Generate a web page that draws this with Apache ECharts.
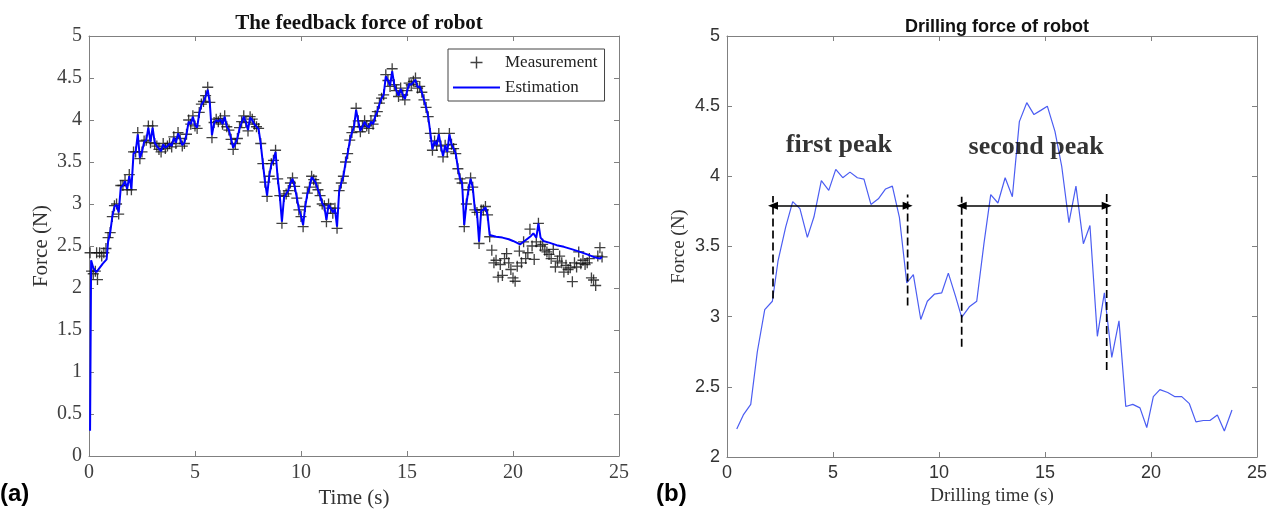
<!DOCTYPE html>
<html><head><meta charset="utf-8">
<script src="https://cdn.jsdelivr.net/npm/echarts@6/dist/echarts.min.js"></script>
<style>html,body{margin:0;padding:0;background:#fff}#c{width:1278px;height:514px}</style>
</head><body><div id="c"></div>
<script>
// ---------- Panel (a): feedback force ----------
const measurement = [
[0.05,2.42],[0.12,2.2],[0.2,2.17],[0.3,2.2],[0.36,2.42],[0.4,2.1],[0.5,2.42],[0.6,2.38],[0.7,2.42],[0.8,2.47],
[0.9,2.6],[1.0,2.66],[1.1,2.85],[1.2,2.98],[1.3,3.0],[1.4,2.88],[1.5,3.22],[1.6,3.22],[1.7,3.28],[1.8,3.17],
[1.9,3.35],[2.0,3.17],[2.1,3.62],[2.2,3.62],[2.3,3.85],[2.4,3.54],[2.5,3.62],[2.6,3.75],[2.7,3.76],[2.8,3.93],
[2.9,3.73],[3.0,3.93],[3.1,3.72],[3.2,3.69],[3.3,3.65],[3.4,3.62],[3.5,3.72],[3.6,3.66],[3.7,3.69],[3.8,3.72],
[3.9,3.68],[4.0,3.8],[4.1,3.72],[4.2,3.85],[4.3,3.78],[4.4,3.69],[4.5,3.72],[4.6,3.83],[4.7,4.0],[4.8,3.95],
[4.9,4.05],[5.0,3.93],[5.1,3.9],[5.2,4.09],[5.3,4.19],[5.4,4.22],[5.5,4.29],[5.6,4.39],[5.7,4.21],[5.8,3.79],
[5.9,3.97],[6.0,4.01],[6.1,3.98],[6.2,4.02],[6.3,3.95],[6.4,4.05],[6.5,3.92],[6.6,3.88],[6.7,3.77],[6.8,3.65],
[6.9,3.72],[7.0,3.78],[7.1,3.91],[7.2,3.98],[7.3,4.05],[7.4,3.97],[7.5,3.87],[7.6,4.04],[7.7,4.01],[7.8,3.95],
[7.9,3.92],[8.0,3.9],[8.1,3.72],[8.2,3.48],[8.3,3.26],[8.4,3.09],[8.5,3.33],[8.6,3.48],[8.7,3.52],[8.8,3.64],
[8.9,3.3],[9.0,3.1],[9.1,2.77],[9.2,3.09],[9.3,3.12],[9.4,3.16],[9.5,3.25],[9.6,3.31],[9.7,3.21],[9.8,3.07],
[9.9,2.93],[10.0,2.85],[10.1,2.73],[10.2,2.97],[10.3,3.13],[10.4,3.2],[10.5,3.33],[10.6,3.29],[10.7,3.25],[10.8,3.17],
[10.9,3.1],[11.0,3.0],[11.1,2.98],[11.2,2.79],[11.3,3.0],[11.4,2.95],[11.5,2.89],[11.6,2.95],[11.7,2.71],[11.8,3.16],
[11.9,3.25],[12.0,3.33],[12.1,3.5],[12.2,3.6],[12.3,3.76],[12.4,3.85],[12.5,3.92],[12.6,4.14],[12.7,3.99],[12.8,3.86],
[12.9,3.92],[13.0,3.99],[13.1,3.93],[13.2,3.9],[13.3,3.99],[13.4,3.95],[13.5,4.05],[13.6,4.1],[13.7,4.2],[13.8,4.26],
[13.9,4.3],[14.0,4.54],[14.1,4.47],[14.2,4.4],[14.3,4.61],[14.4,4.42],[14.5,4.35],[14.6,4.28],[14.7,4.38],[14.8,4.3],
[14.9,4.24],[15.0,4.35],[15.1,4.44],[15.2,4.42],[15.3,4.46],[15.4,4.5],[15.5,4.38],[15.6,4.4],[15.7,4.33],[15.8,4.24],
[15.9,4.15],[16.0,4.04],[16.1,3.84],[16.2,3.64],[16.3,3.75],[16.4,3.7],[16.5,3.84],[16.6,3.69],[16.7,3.56],[16.8,3.7],
[16.9,3.62],[17.0,3.84],[17.1,3.71],[17.2,3.66],[17.3,3.6],[17.4,3.42],[17.5,3.3],[17.6,3.25],[17.7,2.73],[17.8,3.0],
[17.9,3.17],[18.0,3.31],[18.1,3.2],[18.2,2.93],[18.3,2.9],[18.4,2.53],[18.5,2.93],[18.6,2.93],[18.7,2.97],[18.8,2.87],
[18.9,2.61],[19.0,2.45],[19.1,2.3],[19.2,2.33],[19.3,2.13],[19.4,2.28],[19.5,2.15],[19.6,2.35],[19.7,2.41],[19.8,2.3],
[19.9,2.22],[20.0,2.12],[20.1,2.08],[20.2,2.26],[20.3,2.44],[20.4,2.3],[20.5,2.55],[20.6,2.35],[20.7,2.42],[20.8,2.7],
[20.9,2.5],[21.0,2.34],[21.1,2.55],[21.2,2.77],[21.3,2.5],[21.4,2.52],[21.5,2.45],[21.6,2.43],[21.7,2.4],[21.8,2.35],
[21.9,2.46],[22.0,2.25],[22.1,2.32],[22.2,2.38],[22.3,2.3],[22.4,2.19],[22.5,2.27],[22.6,2.22],[22.7,2.24],[22.8,2.075],
[22.9,2.3],[23.0,2.25],[23.1,2.43],[23.2,2.29],[23.3,2.33],[23.4,2.28],[23.5,2.3],[23.6,2.35],[23.7,2.12],[23.8,2.095],
[23.9,2.03],[24.0,2.38],[24.1,2.48],[24.2,2.37]
];
const estimation = [
[0.05,0.3],[0.1,2.33],[0.2,2.24],[0.35,2.19],[0.5,2.24],[0.65,2.29],[0.83,2.34],[0.9,2.55],[1.0,2.66],[1.1,2.85],
[1.2,2.97],[1.3,2.99],[1.4,2.9],[1.5,3.2],[1.6,3.22],[1.7,3.27],[1.8,3.18],[1.9,3.33],[2.0,3.18],[2.1,3.6],
[2.2,3.62],[2.3,3.83],[2.4,3.55],[2.5,3.62],[2.6,3.74],[2.7,3.76],[2.8,3.91],[2.9,3.74],[3.0,3.91],[3.1,3.73],
[3.2,3.69],[3.3,3.66],[3.4,3.63],[3.5,3.71],[3.6,3.67],[3.7,3.69],[3.8,3.72],[3.9,3.69],[4.0,3.79],[4.1,3.73],
[4.2,3.84],[4.3,3.78],[4.4,3.7],[4.5,3.73],[4.6,3.83],[4.7,3.98],[4.8,3.95],[4.9,4.04],[5.0,3.94],[5.1,3.91],
[5.2,4.08],[5.3,4.18],[5.4,4.22],[5.5,4.28],[5.6,4.36],[5.7,4.2],[5.8,3.82],[5.9,3.96],[6.0,4.0],[6.1,3.98],
[6.2,4.01],[6.3,3.95],[6.4,4.04],[6.5,3.92],[6.6,3.88],[6.7,3.78],[6.8,3.67],[6.9,3.72],[7.0,3.78],[7.1,3.9],
[7.2,3.97],[7.3,4.04],[7.4,3.97],[7.5,3.88],[7.6,4.03],[7.7,4.0],[7.8,3.95],[7.9,3.92],[8.0,3.89],[8.1,3.72],
[8.2,3.49],[8.3,3.27],[8.4,3.1],[8.5,3.33],[8.6,3.47],[8.7,3.52],[8.8,3.62],[8.9,3.31],[9.0,3.1],[9.1,2.79],
[9.2,3.08],[9.3,3.12],[9.4,3.16],[9.5,3.25],[9.6,3.3],[9.7,3.21],[9.8,3.08],[9.9,2.94],[10.0,2.86],[10.1,2.75],
[10.2,2.97],[10.3,3.12],[10.4,3.2],[10.5,3.32],[10.6,3.29],[10.7,3.25],[10.8,3.17],[10.9,3.1],[11.0,3.01],[11.1,2.97],
[11.2,2.81],[11.3,2.99],[11.4,2.95],[11.5,2.9],[11.6,2.94],[11.7,2.73],[11.8,3.15],[11.9,3.25],[12.0,3.33],[12.1,3.49],
[12.2,3.6],[12.3,3.75],[12.4,3.85],[12.5,3.92],[12.6,4.12],[12.7,3.99],[12.8,3.87],[12.9,3.92],[13.0,3.98],[13.1,3.93],
[13.2,3.91],[13.3,3.98],[13.4,3.95],[13.5,4.04],[13.6,4.1],[13.7,4.19],[13.8,4.26],[13.9,4.3],[14.0,4.52],[14.1,4.47],
[14.2,4.41],[14.3,4.58],[14.4,4.42],[14.5,4.35],[14.6,4.29],[14.7,4.37],[14.8,4.3],[14.9,4.25],[15.0,4.34],[15.1,4.43],
[15.2,4.42],[15.3,4.45],[15.4,4.48],[15.5,4.39],[15.6,4.4],[15.7,4.33],[15.8,4.24],[15.9,4.15],[16.0,4.04],[16.1,3.85],
[16.2,3.65],[16.3,3.75],[16.4,3.7],[16.5,3.83],[16.6,3.69],[16.7,3.57],[16.8,3.7],[16.9,3.62],[17.0,3.83],[17.1,3.71],
[17.2,3.66],[17.3,3.6],[17.4,3.43],[17.5,3.3],[17.6,3.25],[17.7,2.75],[17.8,3.0],[17.9,3.17],[18.0,3.3],[18.1,3.2],
[18.2,2.94],[18.3,2.9],[18.4,2.55],[18.5,2.92],[18.6,2.93],[18.7,2.96],[18.8,2.87],[18.9,2.63],[19.2,2.61],[19.5,2.6],
[19.8,2.58],[20.0,2.56],[20.17,2.54],[20.33,2.52],[20.5,2.55],[20.7,2.59],[20.85,2.62],[20.96,2.65],[21.1,2.6],[21.2,2.77],
[21.3,2.6],[21.43,2.56],[21.7,2.54],[22.06,2.51],[22.4,2.49],[22.8,2.46],[23.16,2.43],[23.5,2.4],[23.8,2.37],[24.1,2.35],
[24.2,2.37]
];

// ---------- Panel (b): drilling force ----------
const drillTime = [0.46,0.77,1.12,1.43,1.78,2.14,2.41,2.77,3.10,3.44,3.79,4.10,4.45,4.80,5.13,5.46,5.80,6.15,6.46,6.79,
7.14,7.48,7.80,8.13,8.48,8.79,9.14,9.45,9.78,10.13,10.44,10.77,11.07,11.43,11.78,12.12,12.44,12.78,13.12,13.46,
13.79,14.14,14.48,14.80,15.11,15.47,15.79,16.13,16.46,16.81,17.12,17.47,17.80,18.15,18.49,18.81,19.14,19.48,19.80,20.11,
20.42,20.79,21.13,21.45,21.81,22.12,22.47,22.78,23.13,23.46,23.82];
const drillForce = [2.20,2.30,2.375,2.75,3.05,3.11,3.40,3.64,3.82,3.77,3.565,3.71,3.97,3.90,4.05,3.99,4.03,3.99,3.98,3.80,
3.84,3.91,3.93,3.71,3.24,3.30,2.98,3.11,3.16,3.17,3.31,3.15,2.995,3.07,3.11,3.52,3.87,3.81,3.99,3.855,
4.39,4.525,4.44,4.47,4.50,4.32,4.07,3.67,3.93,3.52,3.65,2.86,3.17,2.71,2.97,2.36,2.375,2.35,2.21,2.43,
2.48,2.46,2.43,2.43,2.38,2.25,2.26,2.26,2.30,2.185,2.335];
// peak annotations (data units)
const peakStart = [2.17, 11.07];
const peakEnd = [8.52, 17.91];
const arrowLevel = 3.79;
const dashX = [2.17, 8.52, 11.07, 17.91];
const dashLow = [3.13, 3.08, 2.785, 2.62];
const dashHigh = [3.86, 3.87, 3.855, 3.88];
const peakNames = ['first peak', 'second peak'];
const peakNameX = [5.28, 14.58];
const peakNameY = [4.22, 4.21];

// ---------- styles ----------
const SERIF = 'Liberation Serif';
const SANS = 'Liberation Sans';
const AX = '#808080';
const plusPath = 'path://M8.8,0h2.4v8.8h8.8v2.4h-8.8v8.8h-2.4v-8.8h-8.8v-2.4h8.8z';
const linePath = 'path://M0,0h100v4h-100z';

function axisPair(grid, dir, min, max, interval, lbl, name, nameGap, nameStyle) {
  const common = {
    gridIndex: grid, type: 'value', min: min, max: max, interval: interval,
    axisLine: { show: true, onZero: false, lineStyle: { color: AX, width: 1 } },
    axisTick: { show: true, inside: true, length: 5, lineStyle: { color: AX } },
    splitLine: { show: false }
  };
  const main = Object.assign({}, common, {
    position: dir === 'x' ? 'bottom' : 'left',
    axisLabel: lbl,
    name: name, nameLocation: 'middle', nameGap: nameGap, nameTextStyle: nameStyle
  });
  const opp = Object.assign({}, common, {
    position: dir === 'x' ? 'top' : 'right',
    axisLabel: { show: false }
  });
  return [main, opp];
}

const lblA = { margin: 7, fontFamily: SERIF, fontSize: 20, color: '#404040' };
const lblB = { margin: 7, fontFamily: SANS, fontSize: 18, color: '#333' };
const nameA = { fontFamily: SERIF, fontSize: 21, color: '#333' };
const nameB = { fontFamily: SERIF, fontSize: 19, color: '#333' };

const xA = axisPair(0, 'x', 0, 25, 5, lblA, 'Time (s)', 30, nameA);
const yA = axisPair(0, 'y', 0, 5, 0.5, lblA, 'Force (N)', 37, nameA);
const xB = axisPair(1, 'x', 0, 25, 5, lblB, 'Drilling time (s)', 29, nameB);
const yB = axisPair(1, 'y', 2, 5, 0.5, lblB, 'Force (N)', 38, nameB);

const drillData = drillTime.map((t, i) => [t, drillForce[i]]);

const series = [
  { name: 'Measurement', type: 'scatter', xAxisIndex: 0, yAxisIndex: 0, data: measurement,
    symbol: plusPath, symbolSize: 11, itemStyle: { color: '#111' }, z: 2, silent: true },
  { name: 'Estimation', type: 'line', xAxisIndex: 0, yAxisIndex: 0, data: estimation,
    symbol: 'none', lineStyle: { color: '#0000ff', width: 2 }, itemStyle: { color: '#0000ff' }, z: 3, silent: true },
  { name: 'Drilling', type: 'line', xAxisIndex: 2, yAxisIndex: 2, data: drillData,
    symbol: 'none', lineStyle: { color: '#4b5df2', width: 1.2 }, z: 3, silent: true,
    markLine: {
      silent: true, symbol: ['triangle', 'triangle'], symbolSize: [8, 10],
      label: { show: false }, lineStyle: { color: '#000', width: 1.5, type: 'solid' },
      emphasis: { disabled: true },
      data: peakStart.map((s, i) => [{ coord: [s, arrowLevel] }, { coord: [peakEnd[i], arrowLevel] }])
    }
  }
];
dashX.forEach((x, i) => {
  series.push({ type: 'line', xAxisIndex: 2, yAxisIndex: 2, data: [[x, dashLow[i]], [x, dashHigh[i]]],
    symbol: 'none', lineStyle: { color: '#000', width: 1.7, type: [8, 4] }, z: 4, silent: true });
});
series.push({ type: 'scatter', xAxisIndex: 2, yAxisIndex: 2, symbolSize: 0, silent: true, z: 5,
  data: peakNames.map((n, i) => ({ name: n, value: [peakNameX[i], peakNameY[i]] })),
  label: { show: true, position: 'inside', formatter: p => p.name,
    fontFamily: SERIF, fontWeight: 'bold', fontSize: 26, color: '#000' } });

const option = {
  animation: false,
  backgroundColor: '#fff',
  title: [
    { text: 'The feedback force of robot', left: 354, top: 8, textAlign: 'center',
      textStyle: { fontFamily: SERIF, fontWeight: 'bold', fontSize: 21, color: '#111' } },
    { text: 'Drilling force of robot', left: 992, top: 13, textAlign: 'center',
      textStyle: { fontFamily: SANS, fontWeight: 'bold', fontSize: 18, color: '#111' } }
  ],
  legend: {
    data: [
      { name: 'Measurement', icon: plusPath, itemStyle: { color: '#111' } },
      { name: 'Estimation', icon: linePath, itemStyle: { color: '#0000ff' } }
    ],
    left: 448, top: 49, orient: 'vertical', itemWidth: 47, itemHeight: 12, itemGap: 8,
    padding: [5, 7, 5, 5], borderColor: '#444', borderWidth: 1, backgroundColor: '#fff',
    selectedMode: false,
    textStyle: { fontFamily: SERIF, fontSize: 17, color: '#222' }
  },
  grid: [
    { left: 89, top: 36, width: 530, height: 420 },
    { left: 727, top: 36, width: 530, height: 421 }
  ],
  xAxis: [xA[0], xA[1], xB[0], xB[1]],
  yAxis: [yA[0], yA[1], yB[0], yB[1]],
  graphic: [
    { type: 'text', left: 0, top: 482, style: { text: '(a)', fontFamily: SANS, fontWeight: 'bold', fontSize: 24, fill: '#000' } },
    { type: 'text', left: 656, top: 482, style: { text: '(b)', fontFamily: SANS, fontWeight: 'bold', fontSize: 24, fill: '#000' } }
  ],
  series: series
};
const chart = echarts.init(document.getElementById('c'), null, { renderer: 'canvas' });
chart.setOption(option);
</script></body></html>
